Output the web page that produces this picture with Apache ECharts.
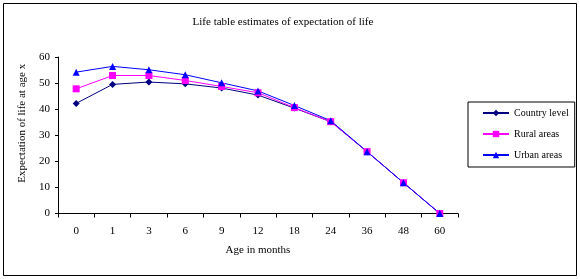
<!DOCTYPE html>
<html><head><meta charset="utf-8">
<script src="https://cdn.jsdelivr.net/npm/echarts@6/dist/echarts.min.js"></script>
<style>html,body{margin:0;padding:0;background:#fff}#c{width:580px;height:279px}</style>
</head><body><div id="c"></div>
<script>
var categories = ['0','1','3','6','9','12','18','24','36','48','60'];
var countryLevel = [42.2, 49.5, 50.4, 49.7, 48.1, 45.4, 40.4, 35.2, 23.7, 11.8, 0];
var ruralAreas   = [47.8, 52.9, 52.9, 51.0, 48.7, 46.3, 40.6, 35.2, 23.7, 11.8, 0];
var urbanAreas   = [54.2, 56.4, 55.1, 53.2, 50.1, 47.0, 41.4, 35.6, 23.7, 11.8, 0];
var yTicks = [0, 10, 20, 30, 40, 50, 60];

var font = 'Liberation Serif';
var chart = echarts.init(document.getElementById('c'), null, {renderer: 'canvas'});
function mk(name, data, color, symbol, size) {
  return {name: name, type: 'line', data: data, symbol: symbol, symbolSize: size,
    lineStyle: {color: color, width: 1}, itemStyle: {color: color}, animation: false};
}
chart.setOption({
  animation: false,
  textStyle: {fontFamily: font},
  title: {text: 'Life table estimates of expectation of life', left: 278, top: 12, textAlign: 'center',
    textStyle: {fontFamily: font, fontSize: 11, fontWeight: 'normal', color: '#000'}},
  graphic: [{type: 'rect', shape: {x: 3.5, y: 3.5, width: 573, height: 272}, style: {fill: 'none', stroke: '#000', lineWidth: 1}, silent: true}],
  legend: {orient: 'vertical', left: 468, top: 102, padding: [6, 6, 7, 14],
    itemWidth: 26, itemHeight: 8, itemGap: 11, itemTextGap: 3,
    borderColor: '#000', borderWidth: 1,
    textStyle: {fontFamily: font, fontSize: 10, color: '#000'},
    data: ['Country level', 'Rural areas', 'Urban areas']},
  grid: {left: 58, right: 122, top: 57, bottom: 65.5, containLabel: false},
  xAxis: {type: 'category', data: categories, boundaryGap: true,
    name: 'Age in months', nameLocation: 'middle', nameGap: 31,
    nameTextStyle: {fontFamily: font, fontSize: 11, color: '#000'},
    axisLine: {lineStyle: {color: '#000', width: 1}},
    axisTick: {show: true, inside: false, length: 4, alignWithLabel: false, lineStyle: {color: '#000'}},
    axisLabel: {margin: 12, fontFamily: font, fontSize: 11, color: '#000', interval: 0},
    splitLine: {show: false}},
  yAxis: {type: 'value', min: yTicks[0], max: yTicks[yTicks.length - 1], interval: 10,
    name: 'Expectation of life at age x', nameLocation: 'middle', nameGap: 29,
    nameTextStyle: {fontFamily: font, fontSize: 11, color: '#000', padding: [0, 0, 0, 24]},
    axisLine: {show: true, lineStyle: {color: '#000', width: 1}},
    axisTick: {show: true, inside: false, length: 3, lineStyle: {color: '#000'}},
    axisLabel: {margin: 8, fontFamily: font, fontSize: 11, color: '#000'},
    splitLine: {show: false}},
  series: [
    mk('Country level', countryLevel, '#000080', 'diamond', 7),
    mk('Rural areas', ruralAreas, '#FF00FF', 'rect', 7),
    mk('Urban areas', urbanAreas, '#0000FF', 'triangle', 7)
  ]
});
</script></body></html>
